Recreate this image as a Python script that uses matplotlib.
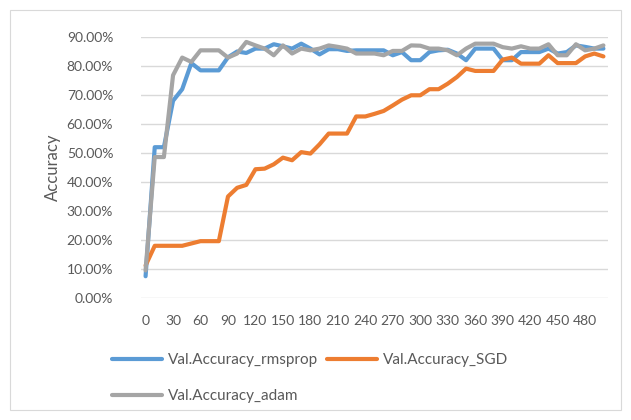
import matplotlib
matplotlib.use("Agg")
import matplotlib.pyplot as plt
from matplotlib.patches import Rectangle
from matplotlib.ticker import FuncFormatter

# epochs, sampled every 10
epochs = list(range(0, 510, 10))

acc_rmsprop = [7.5, 52.0, 52.0, 68.0, 72.0, 81.0, 78.5, 78.5, 78.5, 83.0,
               85.0, 84.5, 86.0, 86.0, 87.5, 86.8, 86.0, 87.7, 86.0, 84.0,
               85.8, 85.8, 85.2, 85.4, 85.4, 85.4, 85.4, 83.7, 84.8, 82.0,
               82.0, 84.8, 85.4, 85.6, 84.3, 82.0, 86.0, 86.0, 86.0, 82.0,
               82.0, 84.8, 84.8, 84.8, 86.0, 84.3, 84.8, 87.1, 86.6, 86.0,
               86.0]

acc_sgd = [11.2, 18.0, 18.0, 18.0, 18.0, 18.8, 19.6, 19.6, 19.6, 35.0,
           38.0, 39.0, 44.4, 44.6, 46.1, 48.4, 47.5, 50.3, 49.8, 53.0,
           56.7, 56.7, 56.7, 62.6, 62.6, 63.5, 64.5, 66.4, 68.4, 69.9,
           69.9, 72.0, 72.0, 73.9, 76.2, 79.1, 78.3, 78.3, 78.3, 82.2,
           82.9, 80.8, 80.8, 80.8, 83.7, 81.0, 81.0, 81.0, 83.3, 84.3,
           83.3]

acc_adam = [9.5, 48.6, 48.6, 76.8, 82.9, 81.4, 85.4, 85.4, 85.4, 82.9,
            84.3, 88.3, 87.1, 86.0, 83.7, 87.1, 84.3, 86.0, 85.4, 86.0,
            87.1, 86.6, 86.0, 84.3, 84.3, 84.3, 83.7, 85.2, 85.2, 87.1,
            87.0, 86.0, 86.0, 85.4, 83.7, 86.0, 87.7, 87.7, 87.7, 86.5,
            86.0, 86.8, 86.0, 86.0, 87.5, 83.7, 83.7, 87.5, 85.4, 86.0,
            87.1]

series_names = ["Val.Accuracy_rmsprop", "Val.Accuracy_SGD", "Val.Accuracy_adam"]
colors = ["#5B9BD5", "#ED7D31", "#A5A5A5"]
x_ticks = list(range(0, 490, 30))

plt.rcParams["font.family"] = ["Lato", "DejaVu Sans"]
text_color = "#595959"

W, H = 631, 420
fig = plt.figure(figsize=(W / 100, H / 100), dpi=100)

# chart area border
fig.patches.append(Rectangle((10 / W, 10 / H), 611 / W, 400 / H,
                             transform=fig.transFigure, fill=False,
                             edgecolor="#D9D9D9", linewidth=0.8))

ax = fig.add_axes([141 / W, 1 - 298 / H, 467 / W, 261 / H])

lines = []
for values, name, color in zip([acc_rmsprop, acc_sgd, acc_adam], series_names, colors):
    ln, = ax.plot(epochs, [v / 100 for v in values], color=color, linewidth=3.0,
                  solid_joinstyle="round", solid_capstyle="round", label=name)
    lines.append(ln)

ax.set_xlim(-5, 505)
ax.set_ylim(0, 0.9)
ax.set_yticks([i / 10 for i in range(10)])
ax.yaxis.set_major_formatter(FuncFormatter(lambda v, _: f"{v * 100:.2f}%"))
ax.set_xticks(x_ticks)

ax.grid(axis="y", color="#D9D9D9", linewidth=1.0)
ax.set_axisbelow(True)
for side in ["top", "right", "left", "bottom"]:
    ax.spines[side].set_visible(False)
ax.tick_params(axis="both", length=0, labelsize=10, labelcolor=text_color)
ax.tick_params(axis="x", pad=12)
ax.tick_params(axis="y", pad=20)

ax.set_ylabel("Accuracy", fontsize=12, color=text_color, labelpad=4)

# legend laid out row by row
order = [0, 2, 1]
fig.legend([lines[i] for i in order], [series_names[i] for i in order],
           ncol=2, loc="upper left", bbox_to_anchor=(112 / W, 1 - 353 / H),
           frameon=False, fontsize=11, labelcolor=text_color,
           handlelength=3.3, handletextpad=0.35, columnspacing=0.6,
           labelspacing=1.45, borderpad=0, borderaxespad=0)

fig.savefig("out.png", dpi=100)
